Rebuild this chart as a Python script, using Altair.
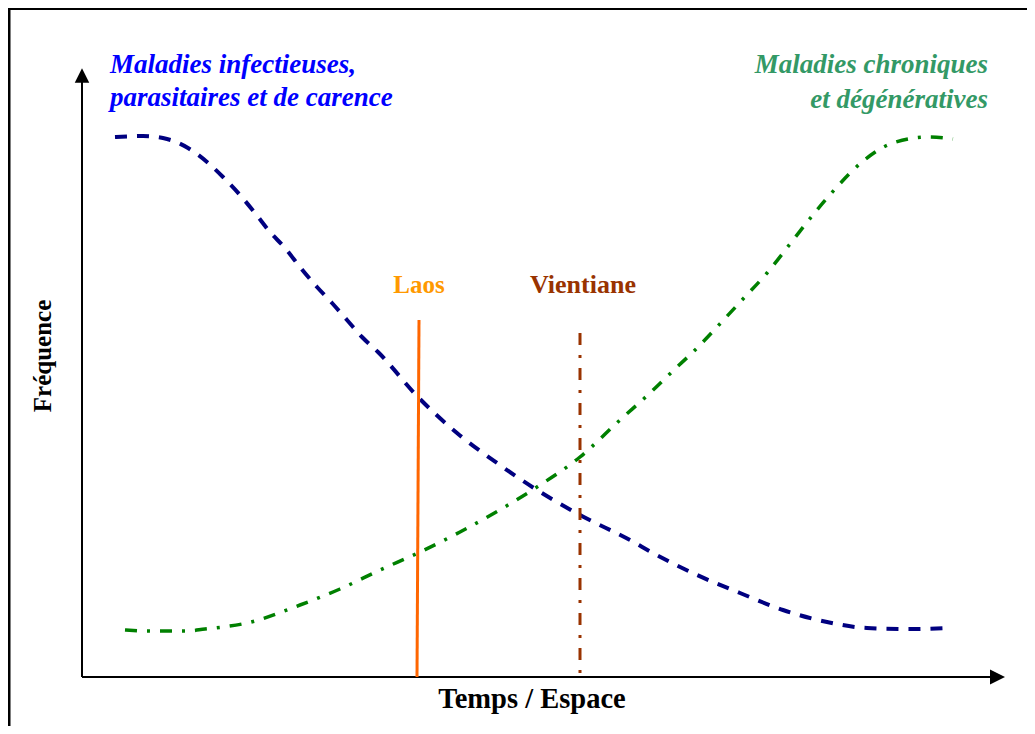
import altair as alt
import pandas as pd

# ---- data (time position, frequency) in diagram units: origin = axes corner ----
infect_t = [33, 61, 85, 106, 125, 141, 158, 173, 188, 203, 218, 235, 250, 265, 280, 296,
            336, 375, 415, 455, 498, 548, 571, 615, 658, 701, 745, 785, 828, 866]
infect_f = [540, 541, 538, 529, 515, 500, 482, 464, 445, 429, 410, 390, 374, 357, 340, 325,
            280, 244, 214, 187, 162, 137, 124, 102, 84, 67, 55, 49, 48, 49]

chron_t = [43, 68, 86, 105, 123, 141, 165, 218, 258, 298, 336, 378, 421, 455, 498, 538,
           568, 595, 610, 635, 660, 685, 708, 730, 754, 780, 811, 847, 871]
chron_f = [47, 46, 46, 46, 48, 50, 54, 72, 88, 107, 124, 145, 169, 190, 220, 257,
           284, 310, 324, 350, 377, 404, 433, 461, 489, 515, 534, 540, 538]

laos_t = [337, 335]
laos_f = [357, 0]
vient_t = [498, 498]
vient_f = [344, 0]

infect_title = ["Maladies infectieuses,", "parasitaires et de carence"]
chron_title = ["Maladies chroniques", "et dégénératives"]
title_t_left = [28, 28]
title_t_right = [906, 906]
title_f = [604, 571]
title_f_right = [604, 569]

X = alt.Scale(domain=[-74, 945], nice=False, zero=False)
Y = alt.Scale(domain=[-49, 669], nice=False, zero=False)


def xy(tf="t", ff="f"):
    return dict(x=alt.X(f"{tf}:Q", scale=X, axis=None), y=alt.Y(f"{ff}:Q", scale=Y, axis=None))


# frame (top and left border of the figure box)
frame = pd.DataFrame({"t": [-74, -73], "t2": [945, -73], "f": [668.5, 668.5], "f2": [668.5, -49]})
frame_layer = alt.Chart(frame).mark_rule(color="black", strokeWidth=3).encode(
    x=alt.X("t:Q", scale=X, axis=None), x2="t2:Q",
    y=alt.Y("f:Q", scale=Y, axis=None), y2="f2:Q")

# axes with arrows
axes = pd.DataFrame({"t": [0, 0], "t2": [0, 910], "f": [0, 0], "f2": [595, 0]})
axes_layer = alt.Chart(axes).mark_rule(color="black", strokeWidth=2).encode(
    x=alt.X("t:Q", scale=X, axis=None), x2="t2:Q",
    y=alt.Y("f:Q", scale=Y, axis=None), y2="f2:Q")

up = alt.Chart(pd.DataFrame({"t": [0], "f": [601.5]})).mark_point(
    shape="M0,-1L1,1L-1,1Z", filled=True, size=210, color="black", opacity=1).encode(**xy())
right = alt.Chart(pd.DataFrame({"t": [915.5], "f": [0]})).mark_point(
    shape="M1,0L-1,1L-1,-1Z", filled=True, size=225, color="black", opacity=1).encode(**xy())

infect = alt.Chart(pd.DataFrame({"t": infect_t, "f": infect_f})).mark_line(
    color="#000080", strokeWidth=4, strokeDash=[12, 10], interpolate="monotone").encode(**xy())
chron = alt.Chart(pd.DataFrame({"t": chron_t, "f": chron_f})).mark_line(
    color="#008000", strokeWidth=3.5, strokeDash=[12, 10, 3, 10], interpolate="monotone").encode(**xy())

laos = alt.Chart(pd.DataFrame({"t": laos_t, "f": laos_f, "o": [0, 1]})).mark_line(
    color="#FF6600", strokeWidth=3).encode(order="o:Q", **xy())
vient = alt.Chart(pd.DataFrame({"t": vient_t, "f": vient_f, "o": [0, 1]})).mark_line(
    color="#993300", strokeWidth=3, strokeDash=[12, 10, 3, 10]).encode(order="o:Q", **xy())

SERIF = "Liberation Serif"

t_infect = alt.Chart(pd.DataFrame({"t": title_t_left, "f": title_f, "s": infect_title})).mark_text(
    align="left", baseline="alphabetic", font=SERIF, fontSize=27, fontStyle="italic",
    fontWeight="bold", color="#0000FF").encode(text="s:N", **xy())
t_chron = alt.Chart(pd.DataFrame({"t": title_t_right, "f": title_f_right, "s": chron_title})).mark_text(
    align="right", baseline="alphabetic", font=SERIF, fontSize=27, fontStyle="italic",
    fontWeight="bold", color="#339966").encode(text="s:N", **xy())

t_laos = alt.Chart(pd.DataFrame({"t": [337], "f": [384], "s": ["Laos"]})).mark_text(
    align="center", baseline="alphabetic", font=SERIF, fontSize=25, fontWeight="bold",
    color="#FF9900").encode(text="s:N", **xy())
t_vient = alt.Chart(pd.DataFrame({"t": [501], "f": [384], "s": ["Vientiane"]})).mark_text(
    align="center", baseline="alphabetic", font=SERIF, fontSize=26, fontWeight="bold",
    color="#993300").encode(text="s:N", **xy())

t_xlab = alt.Chart(pd.DataFrame({"t": [450], "f": [-31], "s": ["Temps / Espace"]})).mark_text(
    align="center", baseline="alphabetic", font=SERIF, fontSize=28.5, fontWeight="bold",
    color="black").encode(text="s:N", **xy())
t_ylab = alt.Chart(pd.DataFrame({"t": [-31], "f": [321], "s": ["Fréquence"]})).mark_text(
    align="center", baseline="alphabetic", font=SERIF, fontSize=25, fontWeight="bold",
    angle=270, color="black").encode(text="s:N", **xy())

chart = alt.layer(
    frame_layer, axes_layer, up, right, infect, chron, laos, vient,
    t_infect, t_chron, t_laos, t_vient, t_xlab, t_ylab
).properties(
    width=1019, height=718, padding=0,
    autosize=alt.AutoSizeParams(type="none")
).configure_view(stroke=None).configure(background="white")

chart.save("out.html", embed_options={"renderer": "svg", "actions": False})
